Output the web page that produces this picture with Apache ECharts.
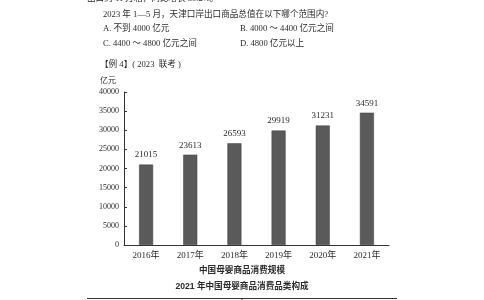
<!DOCTYPE html>
<html><head><meta charset="utf-8">
<script src="https://cdn.jsdelivr.net/npm/echarts@6/dist/echarts.min.js"></script>
<style>html,body{margin:0;padding:0;background:#fff}#c{width:484px;height:300px}</style>
</head><body><div id="c"></div>
<script>
var categories = ['2016年','2017年','2018年','2019年','2020年','2021年'];
var values = [21015, 23613, 26593, 29919, 31231, 34591];
var yTicks = [0,5000,10000,15000,20000,25000,30000,35000,40000];
var unitLabel = '亿元';
var titleMain = '中国母婴商品消费规模';
var titleSub = '2021 年中国母婴商品消费品类构成';

var serif = '"Liberation Serif","Noto Sans CJK SC",serif';
var sans = '"Liberation Sans","Noto Sans CJK SC",sans-serif';
var txt = '#2a2a2a';
function t(x,y,s,opt){
  opt=opt||{};
  return {type:'text',x:x,y:y,style:{text:s,fill:opt.fill||txt,font:(opt.weight||'normal')+' '+(opt.size||8.6)+'px '+(opt.family||serif),textAlign:opt.align||'left',textVerticalAlign:'middle'}};
}
var chart = echarts.init(document.getElementById('c'));
chart.setOption({
  animation:false,
  backgroundColor:'#fff',
  grid:{left:124,right:95,top:92,bottom:55},
  xAxis:{type:'category',data:categories,boundaryGap:true,
    axisLine:{lineStyle:{color:'#333',width:1}},
    axisTick:{inside:true,length:4,lineStyle:{color:'#333'}},
    axisLabel:{color:txt,fontSize:9,fontFamily:serif,margin:6}},
  yAxis:{type:'value',min:yTicks[0],max:yTicks[yTicks.length-1],interval:5000,
    splitLine:{show:false},
    axisLine:{show:true,lineStyle:{color:'#333',width:1}},
    axisTick:{show:true,inside:true,length:3,lineStyle:{color:'#333'}},
    axisLabel:{color:txt,fontSize:8,fontFamily:serif,margin:5,formatter:function(v){return String(v);}}},
  series:[{type:'bar',data:values,barWidth:14,
    itemStyle:{color:'#5a5a5a',borderColor:'#3e3e3e',borderWidth:0.5},
    label:{show:true,position:'top',distance:5,color:txt,fontSize:9,fontFamily:serif}}],
  graphic:[
    t(87,-1,'出口约 11 万箱，同比增长 30.2%。'),
    t(103,15,'2023 年 1—5 月，天津口岸出口商品总值在以下哪个范围内?'),
    t(103,29,'A. 不到 4000 亿元'),
    t(240,29,'B. 4000 ～ 4400 亿元之间'),
    t(103,44,'C. 4400 ～ 4800 亿元之间'),
    t(240,44,'D. 4800 亿元以上'),
    t(100,65,'【例 4】( 2023  联考 )'),
    t(100,81,unitLabel,{size:8}),
    t(242,271,titleMain,{size:8.6,weight:'bold',family:sans,align:'center'}),
    t(242,287,titleSub,{size:8.6,weight:'bold',family:sans,align:'center'}),
    {type:'line',shape:{x1:87,y1:298.5,x2:397,y2:298.5},style:{stroke:'#333',lineWidth:1}},
    {type:'line',shape:{x1:242,y1:298.5,x2:242,y2:300},style:{stroke:'#333',lineWidth:1}}
  ]
});
</script></body></html>
